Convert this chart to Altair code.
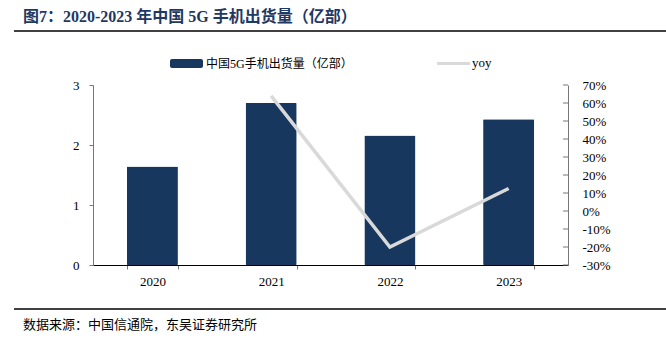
import altair as alt
import pandas as pd

years = ["2020", "2021", "2022", "2023"]
shipments = [1.64, 2.70, 2.16, 2.43]
yoy_years = ["2021", "2022", "2023"]
yoy = [64.0, -20.0, 12.5]
left_ticks = [0, 1, 2, 3]
right_ticks = [70, 60, 50, 40, 30, 20, 10, 0, -10, -20, -30]

title_text = "图7：2020-2023 年中国 5G 手机出货量（亿部）"
source_text = "数据来源：中国信通院，东吴证券研究所"
bar_label = "中国5G手机出货量（亿部）"
line_label = "yoy"

BAR = "#17375E"
LINE = "#D9D9D9"
SERIF = "Liberation Serif"
CJK = "Noto Sans CJK SC"
MIXED = "Liberation Serif, Noto Sans CJK SC"

W, H = 475, 180

bars_df = pd.DataFrame({"year": years, "value": shipments})
line_df = pd.DataFrame({"year": yoy_years, "yoy": yoy})
rtick_df = pd.DataFrame({"t": right_ticks})

xscale = alt.Scale(domain=years, paddingInner=0.57, paddingOuter=0.285)
xenc = alt.X("year:N", scale=xscale,
             axis=alt.Axis(title=None, labelAngle=0, labelFont=SERIF, labelFontSize=13,
                           labelColor="#000", domainColor="#000", tickColor="#777",
                           tickBand="extent", tickSize=4, labelPadding=6, domainWidth=1))

bars = alt.Chart(bars_df).mark_bar(color=BAR, cornerRadius=1).encode(
    x=xenc,
    y=alt.Y("value:Q", scale=alt.Scale(domain=[0, 3], nice=False),
            axis=alt.Axis(title=None, values=left_ticks, orient="left", grid=False,
                          labelFont=SERIF, labelFontSize=13, labelColor="#000",
                          domainColor="#777", tickColor="#777", tickSize=4,
                          labelPadding=10, format="d")),
)

yscale = alt.Scale(domain=[-30, 70], nice=False)
raxis = alt.Axis(title=None, values=right_ticks, orient="right", grid=False,
                 labelFont=SERIF, labelFontSize=13, labelColor="#000",
                 domainColor="#777", ticks=False, labelPadding=14,
                 labelExpr="datum.value + '%'")
line = alt.Chart(line_df).mark_line(color=LINE, strokeWidth=3.5).encode(
    x=alt.X("year:N", scale=xscale),
    y=alt.Y("yoy:Q", scale=yscale, axis=raxis),
)
rticks = alt.Chart(rtick_df).mark_rule(color="#777", strokeWidth=1).encode(
    y=alt.Y("t:Q", scale=yscale, axis=raxis),
    x=alt.value(W - 5), x2=alt.value(W),
)
right_layer = alt.layer(rticks, line)

# decorations (title, rules, legend, source)
def deco_text(txt, x, y, size, font, weight="normal", color="#000", align="left"):
    return alt.Chart(pd.DataFrame({"t": [txt]})).mark_text(
        align=align, baseline="middle", fontSize=size, font=font, fontWeight=weight,
        color=color).encode(text="t:N", x=alt.value(x), y=alt.value(y))

def deco_rule(x1, x2, y, color, width):
    return alt.Chart(pd.DataFrame({"a": [0]})).mark_rule(color=color, strokeWidth=width).encode(
        x=alt.value(x1), x2=alt.value(x2), y=alt.value(y))

ox, oy = 93, 85
title = deco_text(title_text, 23 - ox, 17 - oy, 16, MIXED, "bold", "#1F3864")
rule_top = deco_rule(14 - ox, 666 - ox, 31 - oy, "#000", 1.5)
rule_bot = deco_rule(14 - ox, 666 - ox, 309 - oy, "#000", 1.5)
source = deco_text(source_text, 23 - ox, 325 - oy, 13, CJK)
leg_bar = alt.Chart(pd.DataFrame({"a": [0]})).mark_rect(color=BAR, cornerRadius=2).encode(
    x=alt.value(170 - ox), x2=alt.value(203 - ox), y=alt.value(59 - oy), y2=alt.value(68 - oy))
leg_bar_t = deco_text(bar_label, 206 - ox, 63.5 - oy, 12, MIXED)
leg_line = deco_rule(437 - ox, 470 - ox, 63.5 - oy, LINE, 3)
leg_line_t = deco_text(line_label, 472 - ox, 63 - oy, 13, SERIF)

decor = alt.layer(title, rule_top, rule_bot, source, leg_bar, leg_bar_t, leg_line, leg_line_t)

chart = alt.layer(bars, right_layer, decor).resolve_scale(y="independent").properties(
    width=W, height=H,
    autosize=alt.AutoSizeParams(type="none"),
    padding={"left": ox, "top": oy, "right": 666 - ox - W, "bottom": 342 - oy - H},
    background="white",
).configure_view(stroke=None)

chart.save("out.html", embed_options={"renderer": "svg", "actions": False})
